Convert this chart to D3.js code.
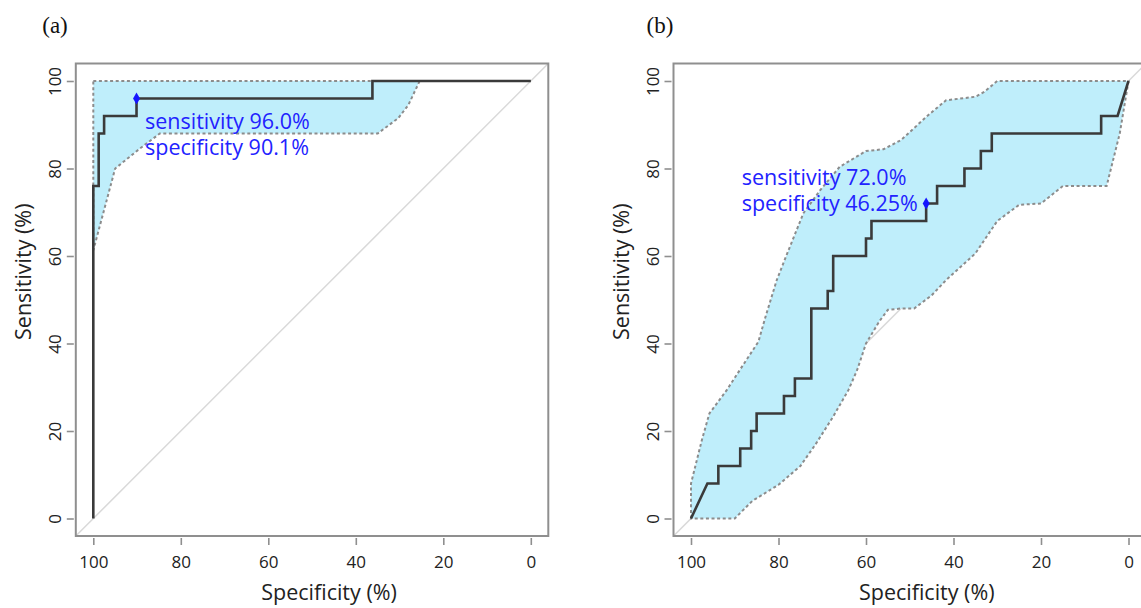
<!DOCTYPE html>
<html>
<head>
<meta charset="utf-8">
<script src="https://cdn.jsdelivr.net/npm/d3@7"></script>
<style>
  html, body { margin: 0; padding: 0; background: #fff; }
  svg text { font-family: "Open Sans", "Noto Sans", sans-serif; }
</style>
</head>
<body>
<svg id="chart" width="1141" height="608"></svg>
<script>
// ---- data (specificity %, sensitivity %) ----
const ticks = [100, 80, 60, 40, 20, 0];

// panel (a)
const rocSpecA = [100, 100, 98.77, 98.77, 97.53, 97.53, 90.12, 90.12, 36.2, 36.2, 0];
const rocSensA = [0, 76, 76, 88, 88, 92, 92, 96, 96, 100, 100];
const ciUpSpecA = [100, 0];
const ciUpSensA = [100, 100];
const ciLoSpecA = [100, 95, 89.3, 84.8, 35, 30.3, 28, 25.4, 0];
const ciLoSensA = [61.3, 80, 84.6, 88, 88, 91.5, 94.5, 100, 100];
const bestA = { spec: 90.12, sens: 96.0, lines: ["sensitivity 96.0%", "specificity 90.1%"] };

// panel (b)
const rocSpecB = [100, 96.25, 93.75, 93.75, 88.75, 88.75, 86.25, 86.25, 85, 85, 78.75, 78.75, 76.25, 76.25,
  72.5, 72.5, 68.75, 68.75, 67.5, 67.5, 60, 60, 58.75, 58.75, 46.25, 46.25, 43.75, 43.75, 37.5, 37.5,
  33.75, 33.75, 31.25, 31.25, 6.25, 6.25, 2.5, 0];
const rocSensB = [0, 8, 8, 12, 12, 16, 16, 20, 20, 24, 24, 28, 28, 32,
  32, 48, 48, 52, 52, 60, 60, 64, 64, 68, 68, 72, 72, 76, 76, 80,
  80, 84, 84, 88, 88, 92, 92, 100];
const ciUpSpecB = [100, 100, 97.5, 95.8, 91.8, 88.8, 84.6, 83, 80.4, 78, 74.3, 70.5, 66, 60, 56, 52, 46, 41.7, 35, 33, 30, 0];
const ciUpSensB = [0, 8, 18, 24, 29.4, 34, 40.4, 46, 54.5, 60.6, 69.8, 75, 80.4, 84, 84.4, 86.5, 92, 95.6, 96.4, 97.5, 100, 100];
const ciLoSpecB = [100, 90, 86, 80, 75, 71.5, 67.5, 64, 62, 60, 57, 55, 52, 49, 45, 41.7, 35, 30, 25, 20, 15, 5, 2, 0];
const ciLoSensB = [0, 0, 4, 7.7, 12, 17, 23.3, 29.4, 34, 40, 45, 47.7, 48, 48, 51, 54.5, 60.6, 68, 71.7, 72, 76, 76, 88, 100];
const bestB = { spec: 46.25, sens: 72.0, lines: ["sensitivity 72.0%", "specificity 46.25%"] };

const svg = d3.select('#chart');

function zip(xs, ys){ return xs.map((v, i) => [v, ys[i]]); }

function drawPanel(cfg){
  const x = d3.scaleLinear().domain([100, 0]).range([cfg.x100, cfg.x0]);
  const y = d3.scaleLinear().domain([0, 100]).range([518.5, 81]);
  const g = svg.append('g');

  const bx0 = x(104), bx1 = x(-4), by0 = y(104), by1 = y(-4);

  // reference diagonal
  g.append('line')
    .attr('x1', bx0).attr('y1', by1).attr('x2', bx1).attr('y2', by0)
    .attr('stroke', '#d9d9d9').attr('stroke-width', 1.5);

  // confidence band
  const band = zip(cfg.upSpec, cfg.upSens).concat(zip(cfg.loSpec, cfg.loSens).reverse());
  const line = d3.line().x(d => x(d[0])).y(d => y(d[1]));
  g.append('path')
    .attr('d', line(band) + 'Z')
    .attr('fill', '#bfeefb')
    .attr('stroke', '#8c8c8c').attr('stroke-width', 2)
    .attr('stroke-dasharray', '3,2.6');

  // roc curve
  g.append('path')
    .attr('d', line(zip(cfg.rocSpec, cfg.rocSens)))
    .attr('fill', 'none')
    .attr('stroke', '#3a3a3a').attr('stroke-width', 2.6)
    .attr('stroke-linejoin', 'miter');

  // best threshold point + label
  g.append('path')
    .attr('d', d3.symbol(d3.symbolDiamond, 42)())
    .attr('transform', `translate(${x(cfg.best.spec)},${y(cfg.best.sens)})`)
    .attr('fill', '#1515ff');
  g.append('text')
    .attr('x', x(cfg.best.spec) + cfg.textDx)
    .attr('y', y(cfg.best.sens) + cfg.textDy)
    .attr('fill', '#2222ff').style('font-size', '21.5px')
    .selectAll('tspan').data(cfg.best.lines).join('tspan')
    .attr('x', x(cfg.best.spec) + cfg.textDx)
    .attr('dy', (d, i) => i === 0 ? 0 : 26)
    .text(d => d);

  // box
  g.append('rect')
    .attr('x', bx0).attr('y', by0).attr('width', bx1 - bx0).attr('height', by1 - by0)
    .attr('fill', 'none').attr('stroke', '#8f8f8f').attr('stroke-width', 2);

  // x axis
  const xa = g.append('g').attr('transform', `translate(0,${by1 + 2})`)
    .call(d3.axisBottom(x).tickValues(ticks).tickSize(7).tickPadding(11).tickFormat(d3.format('d')));
  xa.select('.domain').remove();
  xa.selectAll('.tick line').attr('stroke', '#8f8f8f').attr('stroke-width', 1.6);
  xa.selectAll('.tick text').attr('fill', '#222').style('font-size', '17px')
    .style('font-family', '"Open Sans", sans-serif');

  // y axis
  const ya = g.append('g').attr('transform', `translate(${bx0 - 2},0)`)
    .call(d3.axisLeft(y).tickValues(ticks).tickSize(7).tickFormat(d3.format('d')));
  ya.select('.domain').remove();
  ya.selectAll('.tick line').attr('stroke', '#8f8f8f').attr('stroke-width', 1.6);
  ya.selectAll('.tick text')
    .attr('x', null).attr('dy', null)
    .attr('text-anchor', 'middle')
    .attr('transform', 'translate(-13,0) rotate(-90)')
    .attr('fill', '#222').style('font-size', '17px')
    .style('font-family', '"Open Sans", sans-serif');

  // axis titles (R centres them on the figure region, slightly off the box centre)
  g.append('text')
    .attr('x', (bx0 + bx1) / 2 + 17).attr('y', 600)
    .attr('text-anchor', 'middle').attr('fill', '#222').style('font-size', '21.5px')
    .text('Specificity (%)');
  g.append('text')
    .attr('transform', `translate(${bx0 - 45},${(by0 + by1) / 2 - 28}) rotate(-90)`)
    .attr('text-anchor', 'middle').attr('fill', '#222').style('font-size', '21.5px')
    .text('Sensitivity (%)');

  // panel letter
  g.append('text')
    .attr('x', cfg.letterX).attr('y', 33)
    .attr('text-anchor', 'middle').attr('fill', '#111')
    .style('font-family', '"Liberation Serif", "Times New Roman", serif').style('font-size', '23px')
    .text(cfg.letter);
}

drawPanel({
  x100: 93.3, x0: 530.8, letter: '(a)', letterX: 55,
  rocSpec: rocSpecA, rocSens: rocSensA,
  upSpec: ciUpSpecA, upSens: ciUpSensA, loSpec: ciLoSpecA, loSens: ciLoSensA,
  best: bestA, textDx: 8.5, textDy: 30
});

drawPanel({
  x100: 691, x0: 1128.5, letter: '(b)', letterX: 660,
  rocSpec: rocSpecB, rocSens: rocSensB,
  upSpec: ciUpSpecB, upSens: ciUpSensB, loSpec: ciLoSpecB, loSens: ciLoSensB,
  best: bestB, textDx: -184.5, textDy: -19
});
</script>
</body>
</html>
